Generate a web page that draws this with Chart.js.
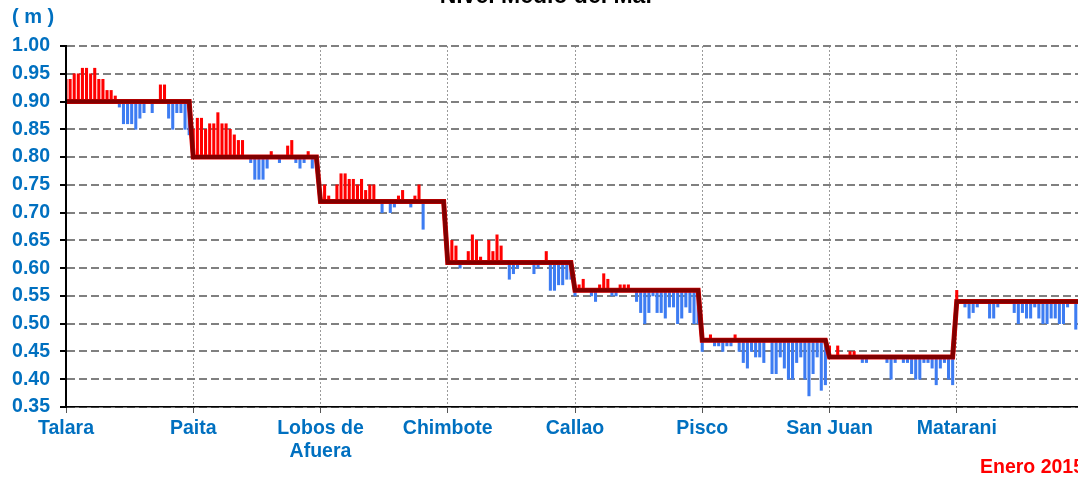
<!DOCTYPE html>
<html>
<head>
<meta charset="utf-8">
<script src="https://cdn.jsdelivr.net/npm/chart.js@4/dist/chart.umd.min.js"></script>
<style>
  html, body { margin: 0; padding: 0; background: #fff; overflow: hidden; width: 1078px; height: 477px; }
  .wrap { position: absolute; left: 0; top: 0; width: 1100px; height: 477px; }
  .txt { position: absolute; font-family: "Liberation Sans", Arial, sans-serif; font-weight: bold; white-space: nowrap; }
  #title { left: 0; width: 1094px; text-align: center; top: -16.5px; font-size: 23px; line-height: 23px; color: #000; }
  #unit { left: 12px; top: 5.5px; font-size: 20px; line-height: 20px; color: #0070C0; }
  #period { left: 980px; top: 457px; font-size: 19.5px; line-height: 19.5px; color: #FF0000; }
</style>
</head>
<body>
<div class="wrap"><canvas id="nmm"></canvas></div>
<div class="txt" id="title">Nivel Medio del Mar</div>
<div class="txt" id="unit">( m )</div>
<div class="txt" id="period">Enero 2015</div>
<script>
// estaciones y nivel medio (m)
const stations = ["Talara", "Paita", ["Lobos de", "Afuera"], "Chimbote", "Callao", "Pisco", "San Juan", "Matarani"];
const means = [0.90, 0.80, 0.72, 0.61, 0.56, 0.47, 0.44, 0.54];

// valores diarios, enero 2015 (31 dias por estacion)
const talara   = [0.94,0.94,0.95,0.95,0.96,0.96,0.95,0.96,0.94,0.94,0.92,0.92,0.91,0.89,0.86,0.86,0.86,0.85,0.87,0.88,0.90,0.88,0.90,0.93,0.93,0.87,0.85,0.88,0.88,0.85,0.84];
const paita    = [0.85,0.87,0.87,0.85,0.86,0.86,0.88,0.86,0.86,0.85,0.84,0.83,0.83,0.80,0.79,0.76,0.76,0.76,0.78,0.81,0.80,0.79,0.80,0.82,0.83,0.79,0.78,0.79,0.81,0.78,0.78];
const lobos    = [0.73,0.75,0.73,0.72,0.75,0.77,0.77,0.76,0.76,0.75,0.76,0.74,0.75,0.75,0.72,0.70,0.72,0.70,0.71,0.73,0.74,0.72,0.71,0.73,0.75,0.67,0.72,0.72,0.72,0.72,0.72];
const chimbote = [0.61,0.65,0.64,0.60,0.61,0.63,0.66,0.65,0.62,0.61,0.65,0.63,0.66,0.64,0.61,0.58,0.59,0.60,0.61,0.61,0.61,0.59,0.60,0.61,0.63,0.56,0.56,0.57,0.57,0.58,0.58];
const callao   = [0.55,0.57,0.58,0.56,0.55,0.54,0.57,0.59,0.58,0.55,0.55,0.57,0.57,0.57,0.56,0.54,0.52,0.50,0.52,0.55,0.52,0.52,0.51,0.53,0.53,0.50,0.51,0.53,0.52,0.50,0.50];
const pisco    = [0.45,0.47,0.48,0.46,0.46,0.45,0.46,0.46,0.48,0.45,0.43,0.42,0.45,0.44,0.44,0.43,0.47,0.41,0.41,0.44,0.42,0.40,0.40,0.43,0.44,0.40,0.37,0.41,0.44,0.38,0.39];
const sanJuan  = [0.46,0.44,0.46,0.44,0.44,0.45,0.45,0.44,0.43,0.43,0.44,0.44,0.44,0.44,0.43,0.40,0.43,0.44,0.43,0.43,0.41,0.40,0.40,0.43,0.43,0.42,0.39,0.42,0.43,0.40,0.39];
const matarani = [0.56,0.54,0.53,0.51,0.52,0.53,0.54,0.54,0.51,0.51,0.53,0.54,0.54,0.54,0.52,0.50,0.52,0.51,0.51,0.53,0.51,0.50,0.50,0.51,0.51,0.50,0.50,0.53,0.54,0.49,0.54];

const daily = [talara, paita, lobos, chimbote, callao, pisco, sanJuan, matarani];
const DAYS = 31;

const meanPts = [];
const barPts = [];
daily.forEach((serie, s) => {
  serie.forEach((v, d) => {
    const x = s * DAYS + d;
    meanPts.push({ x, y: means[s] });
    barPts.push({ x, y: [means[s], v] });
  });
});

const tickFont = { family: "'Liberation Sans', Arial, sans-serif", size: 19.5, weight: "bold", lineHeight: 1.2 };

new Chart(document.getElementById("nmm"), {
  type: "bar",
  data: {
    datasets: [
      { type: "line", data: meanPts, borderColor: "#800000", borderWidth: 4, pointRadius: 0, order: 1 },
      { type: "line", data: meanPts, borderColor: "#E00000", borderWidth: 5, pointRadius: 0, order: 2 },
      {
        type: "bar",
        data: barPts,
        barThickness: 2.4,
        order: 3,
        backgroundColor: (c) => (c.raw && c.raw.y[1] > c.raw.y[0] ? "#FF0000" : "#3D7CF2"),
      },
    ],
  },
  options: {
    responsive: true,
    maintainAspectRatio: false,
    animation: false,
    layout: { padding: { top: 46, right: 16, left: 0, bottom: 0 } },
    plugins: { legend: { display: false }, tooltip: { enabled: false } },
    scales: {
      x: {
        type: "linear",
        min: 0,
        max: daily.length * DAYS,
        offset: false,
        grid: { offset: false, color: "#9a9a9a", lineWidth: 1, tickLength: 6, tickColor: "#555", tickWidth: 1 },
        border: { color: "#000", width: 1.5, dash: [2, 2], z: 1 },
        ticks: {
          stepSize: DAYS,
          autoSkip: false,
          maxRotation: 0,
          padding: 4,
          color: "#0070C0",
          font: tickFont,
          callback: (v) => stations[Math.round(v / DAYS)] || "",
        },
        afterFit: (s) => { s.height = 70; },
      },
      y: {
        min: 0.35,
        max: 1.0,
        grid: { color: "#808080", lineWidth: 2, tickLength: 6, tickColor: "#000" },
        border: { color: "#000", width: 2, dash: [8, 4], z: 1 },
        ticks: {
          stepSize: 0.05,
          padding: 10,
          color: "#0070C0",
          font: tickFont,
          callback: (v) => v.toFixed(2),
        },
        afterFit: (s) => { s.width = 66; },
      },
    },
  },
});
</script>
</body>
</html>
